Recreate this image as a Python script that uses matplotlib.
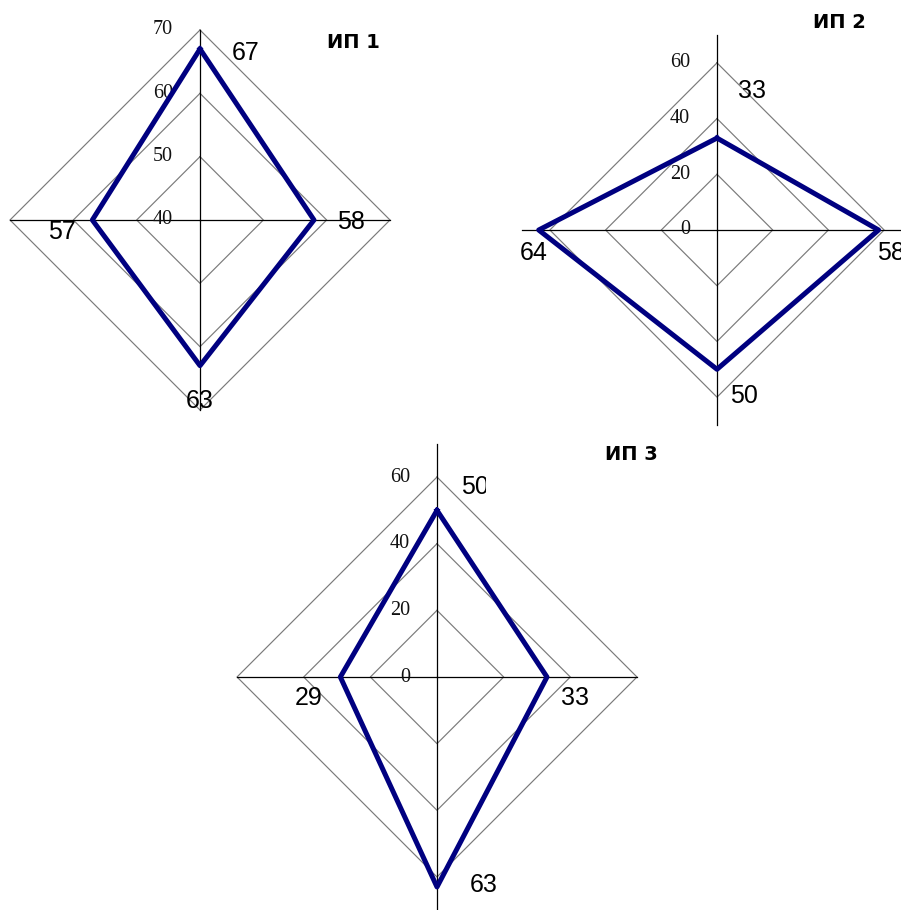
import numpy as np
import matplotlib
matplotlib.use("Agg")
import matplotlib.pyplot as plt
from matplotlib.transforms import Bbox, TransformedBbox

# spoke order: top, right, bottom, left (clockwise)
titles = ["ИП 1", "ИП 2", "ИП 3"]
vals_1 = [67, 58, 63, 57]
vals_2 = [33, 58, 50, 64]
vals_3 = [50, 33, 63, 29]
ticks_1 = [40, 50, 60, 70]
ticks_2 = [0, 20, 40, 60]
ticks_3 = [0, 20, 40, 60]

W, H = 901, 910
fig = plt.figure(figsize=(W / 100, H / 100), dpi=100)

navy = "#000080"
grid_col = "#7a7a7a"


def px_box(cx, cy, rad):
    # axes rect (figure fraction) from a centre/radius given in pixels
    return [(cx - rad) / W, (H - cy - rad) / H, 2 * rad / W, 2 * rad / H]


def radar(rect, vals, ticks, rmax, spoke_len, lab_off, title, title_xy):
    ax = fig.add_axes(rect, projection="polar")
    ax.set_theta_zero_location("N")
    ax.set_theta_direction(-1)
    ax.set_ylim(ticks[0], rmax)
    ax.set_xticks([])
    ax.set_yticks([])
    ax.grid(False)
    ax.spines["polar"].set_visible(False)
    ax.set_facecolor("none")

    th = np.linspace(0, 2 * np.pi, 5)
    # grid diamonds
    for lev in ticks[1:]:
        ax.plot(th, [lev] * 5, color=grid_col, lw=0.85, clip_on=False, zorder=1)
    # spokes
    for t, L in zip(th[:4], spoke_len):
        ax.plot([t, t], [ticks[0], L], color="black", lw=0.9, clip_on=False, zorder=2)
    # radial labels
    for lev in ticks:
        ax.annotate(str(lev), xy=(0, lev), xytext=(-19.5, 0), textcoords="offset points",
                    ha="right", va="center", fontsize=14.5, family="Liberation Serif",
                    color="#111111", annotation_clip=False, zorder=3)
    # series
    ax.plot(th, vals + vals[:1], color=navy, lw=3.6, clip_on=False, zorder=4)
    texts = []
    for t, v, off in zip(th[:4], vals, lab_off):
        txt = ax.annotate(str(v), xy=(t, v), xytext=off, textcoords="offset points",
                          ha="center", va="center", fontsize=18, family="Liberation Sans",
                          annotation_clip=False, zorder=5)
        texts.append(txt)
    fig.text(title_xy[0] / W, 1 - title_xy[1] / H, title, ha="center", va="center",
             fontsize=14, fontweight="bold", family=["DejaVu Sans"])
    return ax, texts


k = 0.72  # px -> pt
ax1, t1 = radar(px_box(200, 220, 190), vals_1, ticks_1, 70, [70, 70, 70, 70],
                [(46 * k, -4 * k), (37 * k, -2 * k), (0, -35 * k), (-30 * k, -12 * k)],
                titles[0], (353, 43))
ax2, t2 = radar(px_box(717, 230, 195), vals_2, ticks_2, 70, [70, 70, 70, 70],
                [(35 * k, 47 * k), (12 * k, -23 * k), (27 * k, -27 * k), (-5 * k, -23 * k)],
                titles[1], (839, 22))
ax3, t3 = radar(px_box(437, 677, 233.3), vals_3, ticks_3, 70, [70, 60, 70, 60],
                [(38 * k, 23 * k), (28 * k, -21 * k), (47 * k, 2 * k), (-32 * k, -21 * k)],
                titles[2], (631, 454))

# the top label of chart 3 is cut by its plot area
clip = TransformedBbox(Bbox([[0, 0], [486 / W, 1]]), fig.transFigure)
t3[0].set_clip_on(True)
t3[0].set_clip_box(clip)

fig.savefig("out.png", dpi=100, facecolor="white")
